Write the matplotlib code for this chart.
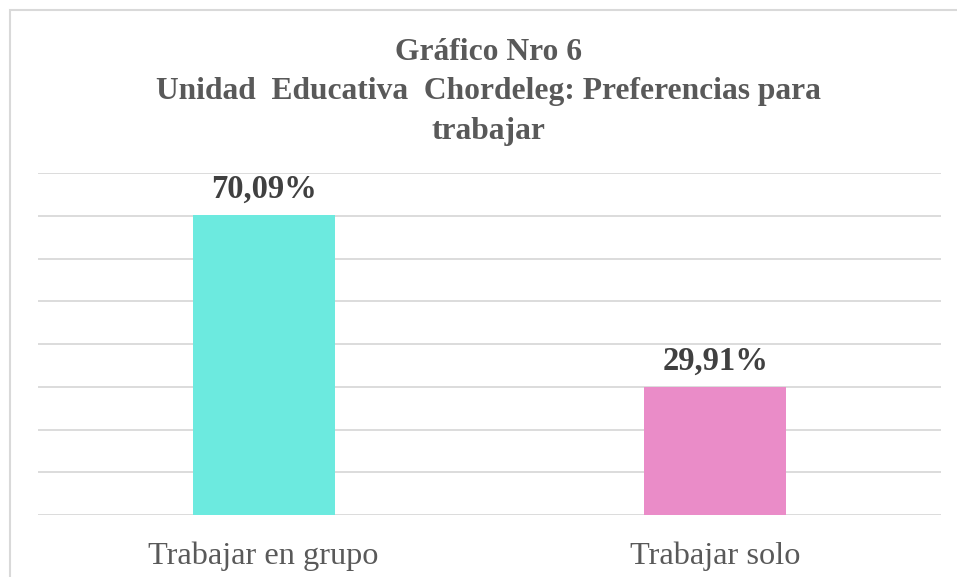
import matplotlib
matplotlib.use("Agg")
import matplotlib.pyplot as plt
from matplotlib.patches import Rectangle

categories = ["Trabajar en grupo", "Trabajar solo"]
values = [70.09, 29.91]
labels = ["70,09%", "29,91%"]
colors = ["#6CEADF", "#EA8CC8"]
title_lines = ["Gráfico Nro 6",
               "Unidad  Educativa  Chordeleg: Preferencias para",
               "trabajar"]

W, H = 957, 577
fig = plt.figure(figsize=(W / 100, H / 100), dpi=100)
fig.patch.set_facecolor("white")

# outer border (chart area frame)
fig.patches.append(Rectangle((10 / W, -0.1), 1.2, 1 - 10 / H + 0.1,
                             transform=fig.transFigure, fill=False,
                             edgecolor="#D9D9D9", linewidth=1.5))

ax = fig.add_axes([38 / W, (H - 515) / H, (941 - 38) / W, (515 - 173) / H])
x = list(range(len(categories)))
ax.bar(x, values, width=0.314, color=colors, zorder=3)
ax.set_xlim(-0.5, 1.5)
ax.set_ylim(0, 80)
ax.set_yticks(range(0, 81, 10))
ax.yaxis.grid(True, color="#D9D9D9", linewidth=1.3, zorder=0)
ax.set_yticklabels([])
ax.tick_params(axis="y", length=0)
for s in ax.spines.values():
    s.set_visible(False)
ax.set_xticks(x)
ax.set_xticklabels(categories, fontfamily="Liberation Serif", fontsize=23.3,
                   color="#595959")
ax.tick_params(axis="x", length=0, pad=19)

for xi, v, lab in zip(x, values, labels):
    ax.annotate(lab, (xi, v), xytext=(0, 18.5), textcoords="offset points",
                ha="center", va="center", fontfamily="Liberation Serif",
                fontweight="bold", fontsize=23.5, color="#404040")

ys = [53, 91, 131]
for line, y in zip(title_lines, ys):
    fig.text(488 / W, 1 - y / H, line, ha="center", va="center",
             fontfamily="Liberation Serif", fontweight="bold",
             fontsize=22.7, color="#595959")

fig.savefig("out.png", dpi=100)
